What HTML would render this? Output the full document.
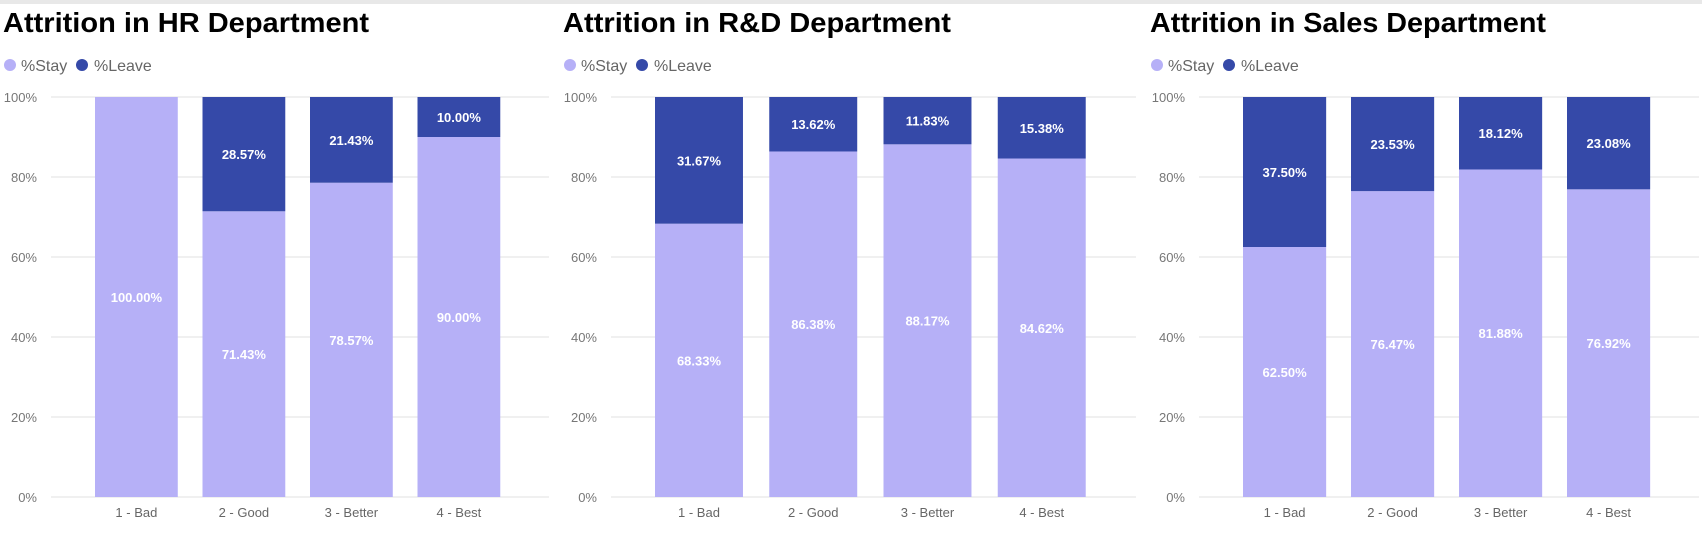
<!DOCTYPE html>
<html><head><meta charset="utf-8"><style>
body{margin:0;background:#fff;width:1702px;height:538px;overflow:hidden;font-family:"Liberation Sans",sans-serif}
svg{display:block}
</style></head><body>
<svg id="chart" width="1702" height="538" xmlns="http://www.w3.org/2000/svg">
<rect x="0" y="0" width="1702" height="4" fill="#e8e8e8"/>
</svg>
<script>
const categories = ["1 - Bad","2 - Good","3 - Better","4 - Best"];
const hrStay = [100.00,71.43,78.57,90.00];
const hrLeave = [0,28.57,21.43,10.00];
const rdStay = [68.33,86.38,88.17,84.62];
const rdLeave = [31.67,13.62,11.83,15.38];
const salesStay = [62.50,76.47,81.88,76.92];
const salesLeave = [37.50,23.53,18.12,23.08];
const yTicks = [0,20,40,60,80,100];
const titles = ["Attrition in HR Department","Attrition in R&D Department","Attrition in Sales Department"];

const NS="http://www.w3.org/2000/svg";
const svg=document.getElementById('chart');
const STAY="#B6B0F7", LEAVE="#3549A8";
const y0=497, y100=97;
function yScale(v){return y0-(v/100)*(y0-y100);}
function mk(tag,attrs,parent){const e=document.createElementNS(NS,tag);for(const k in attrs)e.setAttribute(k,attrs[k]);(parent||svg).appendChild(e);return e;}

const panels=[
 {key:"hr",titleX:3,titleW:366,legX:10,gridL:51,gridR:549,stay:hrStay,leave:hrLeave},
 {key:"rd",titleX:563,titleW:388,legX:570,gridL:611,gridR:1136,stay:rdStay,leave:rdLeave},
 {key:"sales",titleX:1150,titleW:396,legX:1157,gridL:1199,gridR:1699,stay:salesStay,leave:salesLeave}
];
panels.forEach((p,pi)=>{
  const g=mk('g',{});
  
  
  const t=mk('text',{x:p.titleX,y:32,'font-size':28,'font-weight':'bold',fill:'#000',textLength:p.titleW,lengthAdjust:'spacingAndGlyphs'},g);
  t.textContent=titles[pi];
  
  
  // legend
  const lg=mk('g',{},g);
  
  
  const c1=mk('circle',{cx:p.legX,cy:65,r:6,fill:STAY},lg);
  
  
  const l1=mk('text',{x:p.legX+11,y:71,'font-size':16,fill:'#666'},lg);l1.textContent="%Stay";
  
  
  const c2=mk('circle',{cx:p.legX+72,cy:65,r:6,fill:LEAVE},lg);
  
  
  const l2=mk('text',{x:p.legX+84,y:71,'font-size':16,fill:'#666'},lg);l2.textContent="%Leave";
  
  
  // grid & ticks
  yTicks.forEach(v=>{
    const ln=mk('line',{x1:p.gridL,x2:p.gridR,y1:yScale(v),y2:yScale(v),stroke:'#ebebeb','stroke-width':1.5},g);
    
    
    const tx=mk('text',{x:p.gridL-14,y:yScale(v)+5,'font-size':13,fill:'#777','text-anchor':'end'},g);
    tx.textContent=v+"%";
    
    
  });
  const W=p.gridR-p.gridL, step=(W-68)/4, bw=step*0.77, start=p.gridL+44;
  categories.forEach((c,i)=>{
    const x=start+i*step;
    const s=p.stay[i], l=p.leave[i];
    const rs=mk('rect',{x:x,y:yScale(s),width:bw,height:y0-yScale(s),fill:STAY},g);
    
    
    const ts=mk('text',{x:x+bw/2,y:(yScale(s)+y0)/2+5,'font-size':13,'font-weight':'bold',fill:'#fff','text-anchor':'middle'},g);
    ts.textContent=s.toFixed(2)+"%";
    
    
    if(l>0){
      const rl=mk('rect',{x:x,y:yScale(s+l),width:bw,height:yScale(s)-yScale(s+l),fill:LEAVE},g);
      
      
      const tl=mk('text',{x:x+bw/2,y:(yScale(s)+yScale(s+l))/2+5,'font-size':13,'font-weight':'bold',fill:'#fff','text-anchor':'middle'},g);
      tl.textContent=l.toFixed(2)+"%";
      
      
    }
    const cl=mk('text',{x:x+bw/2,y:517,'font-size':13,fill:'#666','text-anchor':'middle'},g);
    cl.textContent=c;
    
    
  });
});
</script>
</body></html>
